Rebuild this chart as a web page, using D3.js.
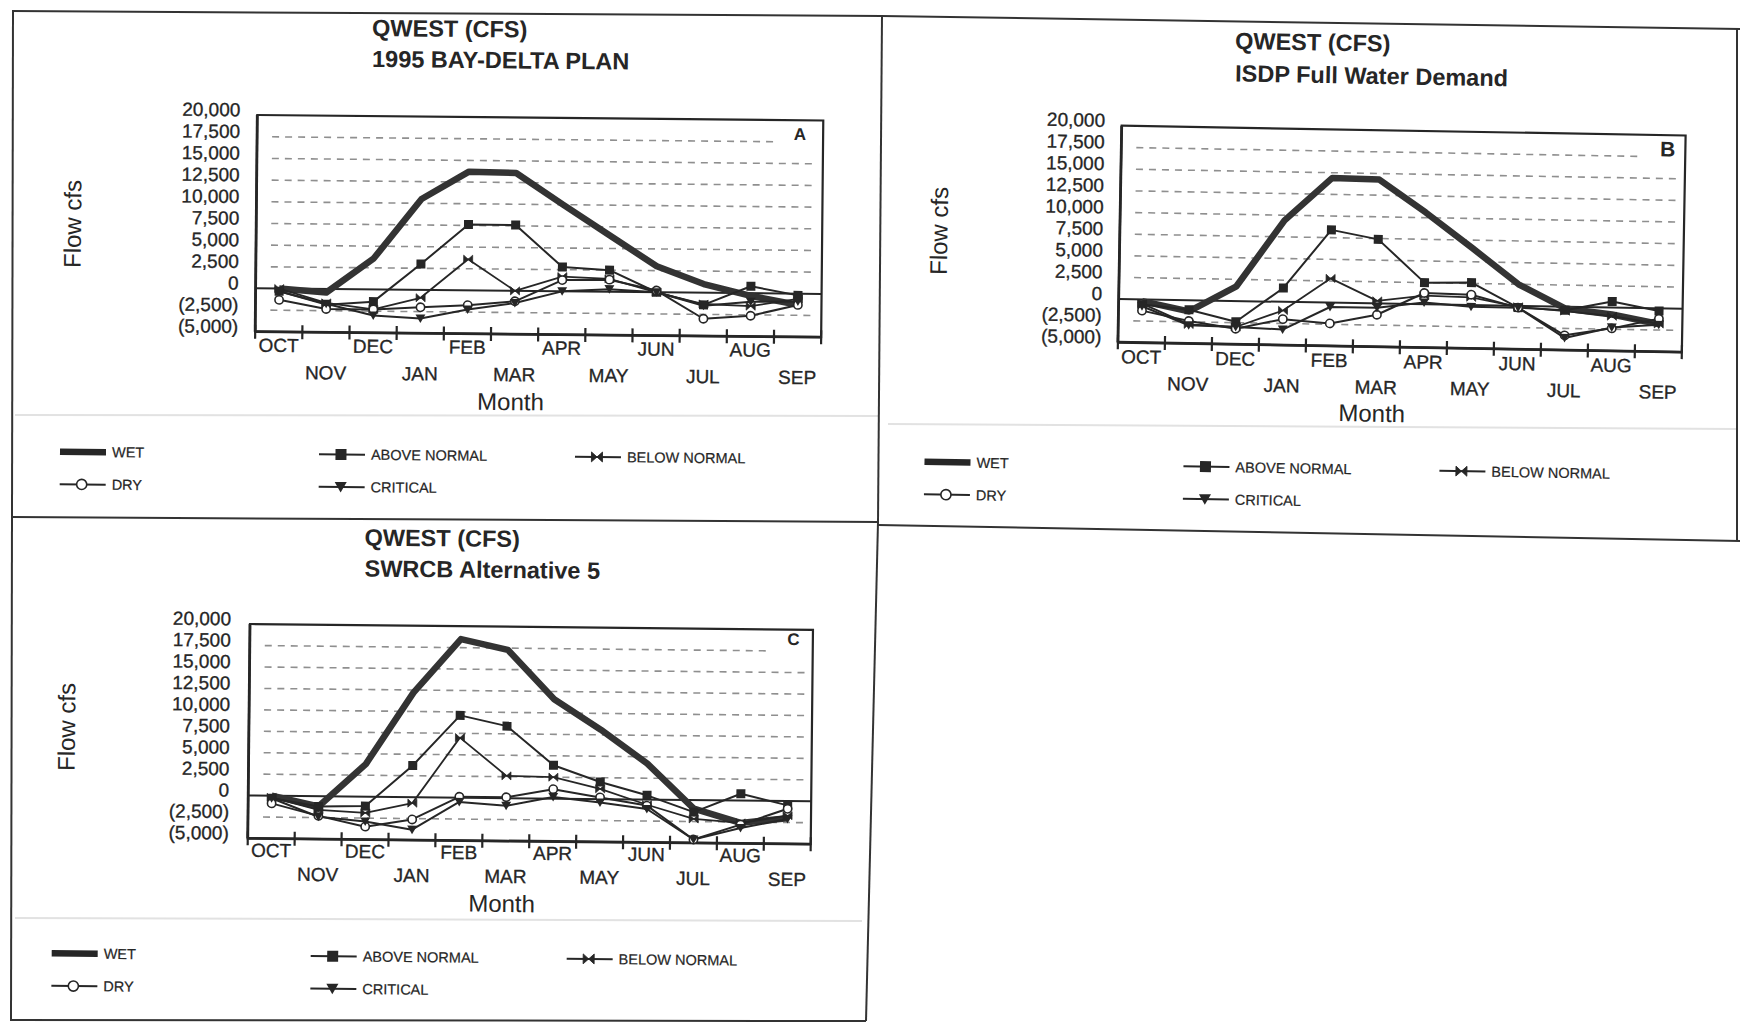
<!DOCTYPE html>
<html>
<head>
<meta charset="utf-8">
<script src="https://cdn.jsdelivr.net/npm/d3@7"></script>
<style>
  body { margin: 0; background: #fff; }
  svg { display: block; font-family: "Liberation Sans", Arial, sans-serif; }
</style>
</head>
<body>
<svg id="page" width="1740" height="1026"></svg>
<script>
const months = ["OCT", "NOV", "DEC", "JAN", "FEB", "MAR", "APR", "MAY", "JUN", "JUL", "AUG", "SEP"];
const yTicks = [20000, 17500, 15000, 12500, 10000, 7500, 5000, 2500, 0, -2500, -5000];
const seriesNames = ["WET", "ABOVE NORMAL", "BELOW NORMAL", "DRY", "CRITICAL"];

// A - 1995 Bay-Delta Plan
const bayDeltaWet   = [0, -400, 3600, 10500, 13700, 13600, 10000, 6500, 3000, 1000, -300, -1300];
const bayDeltaAbove = [-300, -1800, -1400, 3000, 7600, 7600, 2800, 2500, 0, -1400, 800, -200];
const bayDeltaBelow = [0, -1600, -2300, -900, 3600, 0, 1700, 1500, 0, -1300, -1500, -600];
const bayDeltaDry   = [-1300, -2300, -2300, -2000, -1700, -1200, 1300, 1400, 200, -3000, -2600, -1300];
const bayDeltaCrit  = [-300, -1700, -3000, -3300, -2200, -1400, 0, 300, 0, -1500, -1000, -900];

// B - ISDP Full Water Demand
const isdpWet   = [-200, -1300, 1700, 9400, 14400, 14300, 10600, 6600, 2500, -200, -800, -1800];
const isdpAbove = [-600, -1100, -2400, 1600, 8400, 7400, 2500, 2600, -200, -400, 700, -300];
const isdpBelow = [-500, -2800, -3000, -1000, 2800, 300, 1000, 900, -100, -500, -1000, -1800];
const isdpDry   = [-1300, -2400, -3200, -2000, -2400, -1300, 1300, 1200, -200, -3300, -2400, -1200];
const isdpCrit  = [-800, -2900, -3000, -3200, -500, -500, 200, -200, -200, -3600, -2300, -1900];

// C - SWRCB Alternative 5
const alt5Wet   = [0, -1200, 3800, 12200, 18500, 17300, 11600, 8100, 4200, -1000, -2600, -2000];
const alt5Above = [-300, -1200, -1100, 3700, 9600, 8400, 3900, 2000, 500, -1400, 800, -500];
const alt5Below = [-200, -1600, -1900, -700, 7000, 2600, 2500, 1200, -600, -2200, -2600, -1700];
const alt5Dry   = [-900, -2300, -3500, -2600, 100, 100, 1100, 200, -700, -4600, -2800, -900];
const alt5Crit  = [-300, -2400, -2900, -3800, -500, -900, 200, -400, -1100, -4600, -3200, -2100];

const ink = "#262626";
const svg = d3.select("#page");

const seriesStyle = {
  "WET":          { width: 6.5, marker: null },
  "ABOVE NORMAL": { width: 2,   marker: "square" },
  "BELOW NORMAL": { width: 1.8, marker: "bowtie" },
  "DRY":          { width: 2,   marker: "circle" },
  "CRITICAL":     { width: 2,   marker: "triangle" }
};

const panels = [
  {
    titles: ["QWEST (CFS)", "1995 BAY-DELTA PLAN"], letter: "A",
    values: [bayDeltaWet, bayDeltaAbove, bayDeltaBelow, bayDeltaDry, bayDeltaCrit],
    x0: 257.3, y0: 115, w: 566, h: 216.7, angle: 0.56, tickGap: 17,
    monthOff: [20, 47, 76],
    titlePos: [[372, 36], [372, 67]], flowPos: [81, 224], legendPos: [60, 451.7],
    letterPos: [800, 140], letterSize: 17, faint: [[15, 415], [878, 416]]
  },
  {
    titles: ["QWEST (CFS)", "ISDP Full Water Demand"], letter: "B",
    values: [isdpWet, isdpAbove, isdpBelow, isdpDry, isdpCrit],
    x0: 1121.7, y0: 125.7, w: 564, h: 216.6, angle: 1.0, tickGap: 16.7,
    monthOff: [21, 47, 75],
    titlePos: [[1235, 49], [1235, 81.5]], flowPos: [947.5, 231], legendPos: [924.5, 461.8],
    letterPos: [1667.5, 156.5], letterSize: 21, faint: [[888, 424], [1736, 429]]
  },
  {
    titles: ["QWEST (CFS)", "SWRCB Alternative 5"], letter: "C",
    values: [alt5Wet, alt5Above, alt5Below, alt5Dry, alt5Crit],
    x0: 250, y0: 624, w: 563, h: 214.3, angle: 0.6, tickGap: 19,
    monthOff: [18.5, 42, 71],
    titlePos: [[364.5, 545.5], [364.5, 576.5]], flowPos: [75, 727], legendPos: [51.7, 953.3],
    letterPos: [793.3, 645], letterSize: 17, faint: [[15, 918], [862, 921]]
  }
];

const fmtNum = d3.format(",");
const fmtTick = v => v < 0 ? "(" + fmtNum(-v) + ")" : fmtNum(v);

function addMarker(sel, kind, px, py, scale) {
  const s = scale || 1;
  if (kind === "circle") {
    sel.append("circle").attr("cx", px).attr("cy", py).attr("r", 4.6 * s)
      .attr("fill", "#fff").attr("stroke", ink).attr("stroke-width", 1.6);
  } else if (kind === "square") {
    sel.append("rect").attr("x", px - 5 * s).attr("y", py - 5 * s)
      .attr("width", 10 * s).attr("height", 10 * s).attr("fill", ink);
  } else if (kind === "triangle") {
    sel.append("path").attr("transform", `translate(${px},${py}) scale(${s})`)
      .attr("d", "M-5.5,-4.5L5.5,-4.5L0,5Z").attr("fill", ink);
  } else if (kind === "bowtie") {
    sel.append("path").attr("transform", `translate(${px},${py}) scale(${s})`)
      .attr("d", "M-5,-4.5L0,0L-5,4.5ZM5,-4.5L0,0L5,4.5Z").attr("fill", ink)
      .attr("stroke", ink).attr("stroke-width", 0.8);
  }
}

function drawPanel(p) {
  const a = p.angle * Math.PI / 180;
  // page position measured on the scan -> unrotated position inside the panel group
  const un = ([qx, qy]) => {
    const dx = qx - p.x0, dy = qy - p.y0;
    return [p.x0 + dx * Math.cos(a) + dy * Math.sin(a), p.y0 - dx * Math.sin(a) + dy * Math.cos(a)];
  };

  const g = svg.append("g").attr("transform", `rotate(${p.angle},${p.x0},${p.y0})`);

  const x = d3.scaleBand().domain(months).range([p.x0, p.x0 + p.w]);
  const y = d3.scaleLinear().domain([-5000, 20000]).range([p.y0 + p.h, p.y0]);
  const cx = m => x(m) + x.bandwidth() / 2;
  const bottom = p.y0 + p.h;

  // faint chart-area line above the legend
  const f1 = un(p.faint[0]), f2 = un(p.faint[1]);
  g.append("line").attr("x1", f1[0]).attr("y1", f1[1]).attr("x2", f2[0]).attr("y2", f2[1])
    .attr("stroke", "#e2e2e2").attr("stroke-width", 2);

  // dashed gridlines
  g.append("g").selectAll("line")
    .data(yTicks.filter(v => v !== 20000 && v !== -5000 && v !== 0))
    .join("line")
      .attr("x1", p.x0 + 15)
      .attr("x2", v => v === 17500 ? p.x0 + p.w - 45 : p.x0 + p.w - 8)
      .attr("y1", v => y(v)).attr("y2", v => y(v))
      .attr("stroke", "#8f8f8f").attr("stroke-width", 1.6).attr("stroke-dasharray", "7,6");

  // frame, zero line
  g.append("rect").attr("x", p.x0).attr("y", p.y0).attr("width", p.w).attr("height", p.h)
    .attr("fill", "none").attr("stroke", ink).attr("stroke-width", 2.2);
  g.append("line").attr("x1", p.x0).attr("x2", p.x0 + p.w).attr("y1", y(0)).attr("y2", y(0))
    .attr("stroke", ink).attr("stroke-width", 2);
  g.append("line").attr("x1", p.x0).attr("x2", p.x0 + p.w).attr("y1", bottom).attr("y2", bottom)
    .attr("stroke", ink).attr("stroke-width", 2.8);
  g.append("line").attr("x1", p.x0).attr("x2", p.x0).attr("y1", p.y0).attr("y2", bottom)
    .attr("stroke", ink).attr("stroke-width", 2.8);

  // value axis labels
  const yAxis = g.append("g").attr("transform", `translate(${p.x0},0)`)
    .call(d3.axisLeft(y).tickValues(yTicks).tickFormat(fmtTick).tickSize(0).tickPadding(p.tickGap));
  yAxis.select(".domain").remove();
  yAxis.selectAll("text").attr("dy", "0.05em").attr("font-size", 19)
    .attr("font-family", "Liberation Sans, Arial, sans-serif").attr("fill", ink)
    .attr("stroke", ink).attr("stroke-width", 0.3);

  // category ticks on the boundaries
  g.append("g").selectAll("line")
    .data(d3.range(months.length + 1))
    .join("line")
      .attr("x1", i => p.x0 + i * x.step()).attr("x2", i => p.x0 + i * x.step())
      .attr("y1", bottom - 7).attr("y2", bottom + 7)
      .attr("stroke", ink).attr("stroke-width", 2.2);

  // staggered month labels
  const xAxis = g.append("g").attr("transform", `translate(0,${bottom})`)
    .call(d3.axisBottom(x).tickSize(0));
  xAxis.select(".domain").remove();
  xAxis.selectAll("text")
    .attr("y", (d, i) => i % 2 === 0 ? p.monthOff[0] : p.monthOff[1])
    .attr("dy", 0).attr("font-size", 19)
    .attr("font-family", "Liberation Sans, Arial, sans-serif").attr("fill", ink)
    .attr("stroke", ink).attr("stroke-width", 0.3);

  g.append("text").attr("x", p.x0 + p.w / 2 - 27).attr("y", bottom + p.monthOff[2])
    .attr("text-anchor", "middle").attr("font-size", 24).attr("fill", ink).text("Month");

  // series
  const line = d3.line().x((d, i) => cx(months[i])).y(d => y(d));
  seriesNames.forEach((name, k) => {
    const st = seriesStyle[name];
    g.append("path").datum(p.values[k]).attr("d", line)
      .attr("fill", "none").attr("stroke", name === "WET" ? "#333" : ink)
      .attr("stroke-width", st.width).attr("stroke-linejoin", "round");
  });
  seriesNames.forEach((name, k) => {
    const st = seriesStyle[name];
    if (!st.marker) return;
    p.values[k].forEach((v, i) => addMarker(g, st.marker, cx(months[i]), y(v), 0.9));
  });

  // panel letter
  const lp = un(p.letterPos);
  g.append("text").attr("x", lp[0]).attr("y", lp[1]).attr("text-anchor", "middle")
    .attr("font-size", p.letterSize).attr("font-weight", "bold").attr("fill", ink).text(p.letter);

  // titles
  p.titles.forEach((t, i) => {
    const tp = un(p.titlePos[i]);
    g.append("text").attr("x", tp[0]).attr("y", tp[1]).attr("font-size", 23.5)
      .attr("font-weight", "bold").attr("fill", ink).text(t);
  });

  // y title
  const fp = un(p.flowPos);
  g.append("text").attr("transform", `translate(${fp[0]},${fp[1]}) rotate(-90)`)
    .attr("text-anchor", "middle").attr("font-size", 24).attr("fill", ink).text("Flow cfs");

  // legend: row 1 WET / ABOVE NORMAL / BELOW NORMAL, row 2 DRY / CRITICAL
  const lo = un(p.legendPos);
  const slots = { "WET": [0, 0], "ABOVE NORMAL": [1, 0], "BELOW NORMAL": [2, 0], "DRY": [0, 1], "CRITICAL": [1, 1] };
  const colX = [0, 259, 515];
  seriesNames.forEach(name => {
    const [c, r] = slots[name];
    const lx = lo[0] + colX[c], ly = lo[1] + r * 32.5;
    const st = seriesStyle[name];
    g.append("line").attr("x1", lx).attr("x2", lx + 46).attr("y1", ly).attr("y2", ly)
      .attr("stroke", ink).attr("stroke-width", name === "WET" ? 6.5 : 2);
    if (st.marker) addMarker(g, st.marker, lx + 22, ly, 1.1);
    g.append("text").attr("x", lx + 52).attr("y", ly + 5).attr("font-size", 14.5)
      .attr("fill", ink).attr("stroke", ink).attr("stroke-width", 0.2).text(name);
  });
}

panels.forEach(drawPanel);

// scanned page borders
const borders = [
  [[12, 11], [882, 16]],
  [[13, 11], [11, 1021]],
  [[13, 517], [878, 522]],
  [[882, 16], [878, 522]],
  [[878, 522], [866, 1021]],
  [[11, 1020], [866, 1021]],
  [[882, 16], [1740, 29]],
  [[878, 525], [1740, 541]],
  [[1737, 28], [1737, 541]]
];
svg.append("g").selectAll("line").data(borders).join("line")
  .attr("x1", d => d[0][0]).attr("y1", d => d[0][1])
  .attr("x2", d => d[1][0]).attr("y2", d => d[1][1])
  .attr("stroke", "#333").attr("stroke-width", 2);
</script>
</body>
</html>
